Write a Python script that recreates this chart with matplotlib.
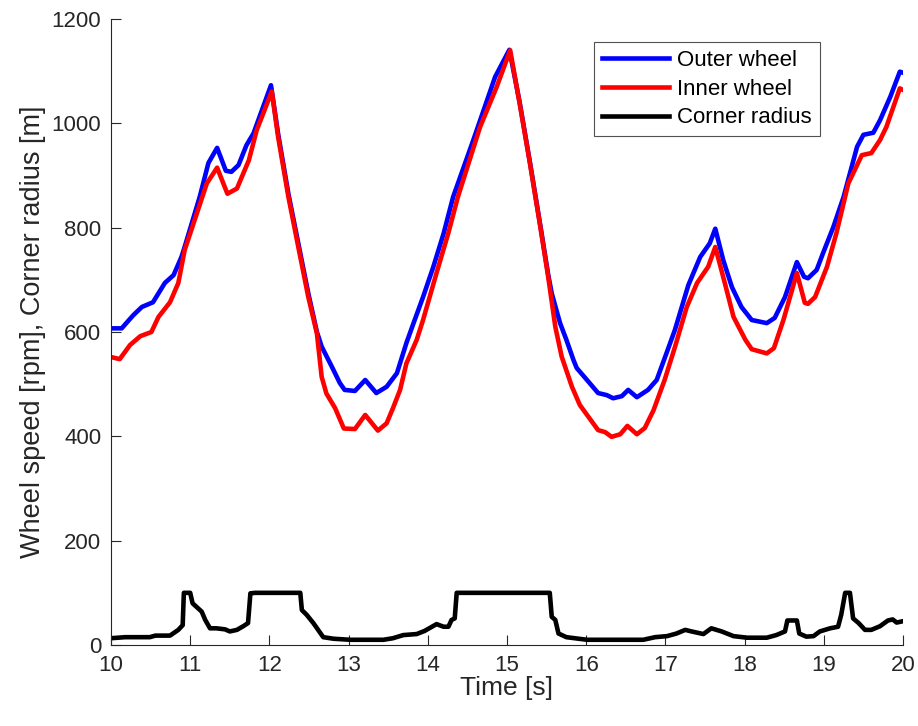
import numpy as np
import matplotlib
matplotlib.use("Agg")
import matplotlib.pyplot as plt

plt.rcParams['font.family'] = ['Liberation Sans', 'DejaVu Sans']

# Outer wheel speed [rpm]
t_outer = [10.0, 10.135, 10.28, 10.39, 10.53, 10.68, 10.79, 10.89, 10.93, 11.12, 11.23, 11.34,
           11.45, 11.52, 11.61, 11.71, 11.80, 12.02, 12.11, 12.24, 12.365, 12.49, 12.60, 12.66,
           12.79, 12.89, 12.95, 13.08, 13.21, 13.35, 13.48, 13.61, 13.73, 13.82, 13.94, 14.07,
           14.20, 14.32, 14.575, 14.85, 15.03, 15.16, 15.29, 15.42, 15.52, 15.565, 15.67, 15.75,
           15.84, 15.88, 16.01, 16.15, 16.26, 16.34, 16.45, 16.53, 16.64, 16.78, 16.89, 17.02,
           17.12, 17.29, 17.44, 17.56, 17.63, 17.73, 17.84, 17.96, 18.09, 18.28, 18.38, 18.51,
           18.66, 18.75, 18.80, 18.91, 18.99, 19.12, 19.25, 19.42, 19.50, 19.625, 19.71, 19.84,
           19.96, 20.0]
outer = [607, 607, 632, 648, 657, 694, 709, 744, 763, 859, 924, 953,
         909, 907, 920, 958, 981, 1073, 980, 865, 770, 675, 600, 572,
         533, 502, 489, 487, 508, 483, 495, 521, 579, 617, 667, 725,
         789, 859, 968, 1089, 1141, 1040, 925, 805, 710, 674, 617, 585,
         546, 531, 508, 483, 479, 473, 477, 489, 475, 489, 508, 562,
         604, 690, 744, 770, 798, 738, 686, 648, 623, 617, 627, 667,
         734, 706, 703, 719, 751, 801, 859, 955, 978, 982, 1006, 1051,
         1099, 1097]

# Inner wheel speed [rpm]
t_inner = [10.0, 10.11, 10.24, 10.37, 10.51, 10.60, 10.745, 10.85, 10.93, 11.21, 11.34, 11.47,
           11.59, 11.74, 11.84, 12.03, 12.11, 12.24, 12.365, 12.49, 12.60, 12.66, 12.72, 12.83,
           12.94, 13.08, 13.21, 13.37, 13.48, 13.56, 13.65, 13.73, 13.86, 13.94, 14.11, 14.26,
           14.38, 14.66, 14.87, 15.04, 15.16, 15.29, 15.42, 15.52, 15.61, 15.69, 15.82, 15.92,
           16.03, 16.15, 16.24, 16.32, 16.43, 16.52, 16.64, 16.74, 16.85, 16.99, 17.12, 17.27,
           17.40, 17.54, 17.63, 17.75, 17.86, 18.01, 18.09, 18.28, 18.37, 18.49, 18.66, 18.76,
           18.80, 18.89, 19.04, 19.16, 19.31, 19.48, 19.60, 19.71, 19.79, 19.96, 20.0]
inner = [552, 548, 575, 592, 600, 629, 657, 694, 757, 885, 915, 865,
         875, 929, 987, 1061, 974, 859, 763, 668, 597, 514, 482, 454,
         415, 414, 441, 411, 425, 454, 489, 540, 585, 623, 713, 790,
         859, 993, 1070, 1140, 1038, 923, 802, 706, 610, 553, 495, 460,
         437, 412, 408, 399, 404, 420, 404, 416, 450, 508, 571, 648,
         694, 725, 763, 694, 629, 585, 567, 559, 569, 623, 713, 656,
         654, 667, 725, 790, 885, 939, 943, 968, 993, 1067, 1064]

# Corner radius [m]
t_radius = [10.0, 10.18, 10.49, 10.56, 10.745, 10.85, 10.905, 10.92, 11.0, 11.03, 11.08, 11.145,
            11.19, 11.25, 11.33, 11.44, 11.50, 11.59, 11.67, 11.73, 11.76, 11.82, 12.39, 12.41,
            12.47, 12.555, 12.68, 12.81, 13.02, 13.44, 13.56, 13.69, 13.86, 13.96, 14.11, 14.20,
            14.26, 14.30, 14.34, 14.365, 15.54, 15.565, 15.61, 15.65, 15.75, 16.01, 16.72, 16.87,
            17.02, 17.14, 17.25, 17.33, 17.48, 17.58, 17.71, 17.86, 18.03, 18.28, 18.40, 18.51,
            18.54, 18.66, 18.69, 18.78, 18.87, 18.95, 19.08, 19.18, 19.22, 19.27, 19.33, 19.37,
            19.44, 19.52, 19.60, 19.71, 19.81, 19.87, 19.92, 19.98]
radius = [13, 15, 15, 18, 18, 29, 38, 100, 100, 80, 73, 64,
          48, 32, 32, 30, 26, 29, 36, 42, 99, 100, 100, 67,
          58, 42, 15, 12, 10, 10, 13, 19, 21, 27, 40, 35,
          35, 48, 51, 100, 100, 54, 48, 22, 15, 10, 10, 15,
          17, 22, 29, 26, 21, 32, 26, 17, 14, 14, 19, 26,
          47, 47, 22, 16, 17, 26, 32, 35, 58, 100, 100, 51,
          42, 29, 29, 36, 47, 49, 43, 45]

labels = ['Outer wheel', 'Inner wheel', 'Corner radius']
xticks = list(range(10, 21))
yticks = list(range(0, 1201, 200))

fig = plt.figure(figsize=(9.18, 7.26), dpi=100)
ax = fig.add_axes([111 / 918, 81 / 726, 792 / 918, 626 / 726])

lw = 3.3
ax.plot(t_outer, outer, color='#0000FF', lw=lw, label=labels[0], solid_joinstyle='round')
ax.plot(t_inner, inner, color='#FF0000', lw=lw, label=labels[1], solid_joinstyle='round')
ax.plot(t_radius, radius, color='#000000', lw=lw, label=labels[2], solid_joinstyle='round')

ax.set_xlim(10, 20)
ax.set_ylim(0, 1200)
ax.set_xticks(xticks)
ax.set_yticks(yticks)
ax.spines['top'].set_visible(False)
ax.spines['right'].set_visible(False)
for s in ('left', 'bottom'):
    ax.spines[s].set_color('#262626')
    ax.spines[s].set_linewidth(0.8)
ax.tick_params(direction='in', length=7, width=0.8, colors='#262626', labelsize=16, pad=7)

ax.set_xlabel('Time [s]', fontsize=19, color='#262626', labelpad=0)
ax.set_ylabel('Wheel speed [rpm], Corner radius [m]', fontsize=19.5, color='#262626', labelpad=4)

leg = ax.legend(loc='upper right', bbox_to_anchor=(0.895, 0.963), fontsize=16,
                frameon=True, fancybox=False, edgecolor='#262626', handlelength=3.0,
                borderpad=0.35, labelspacing=0.35, handletextpad=0.4, borderaxespad=0)
leg.get_frame().set_linewidth(0.8)

fig.savefig('out.png', dpi=100)
